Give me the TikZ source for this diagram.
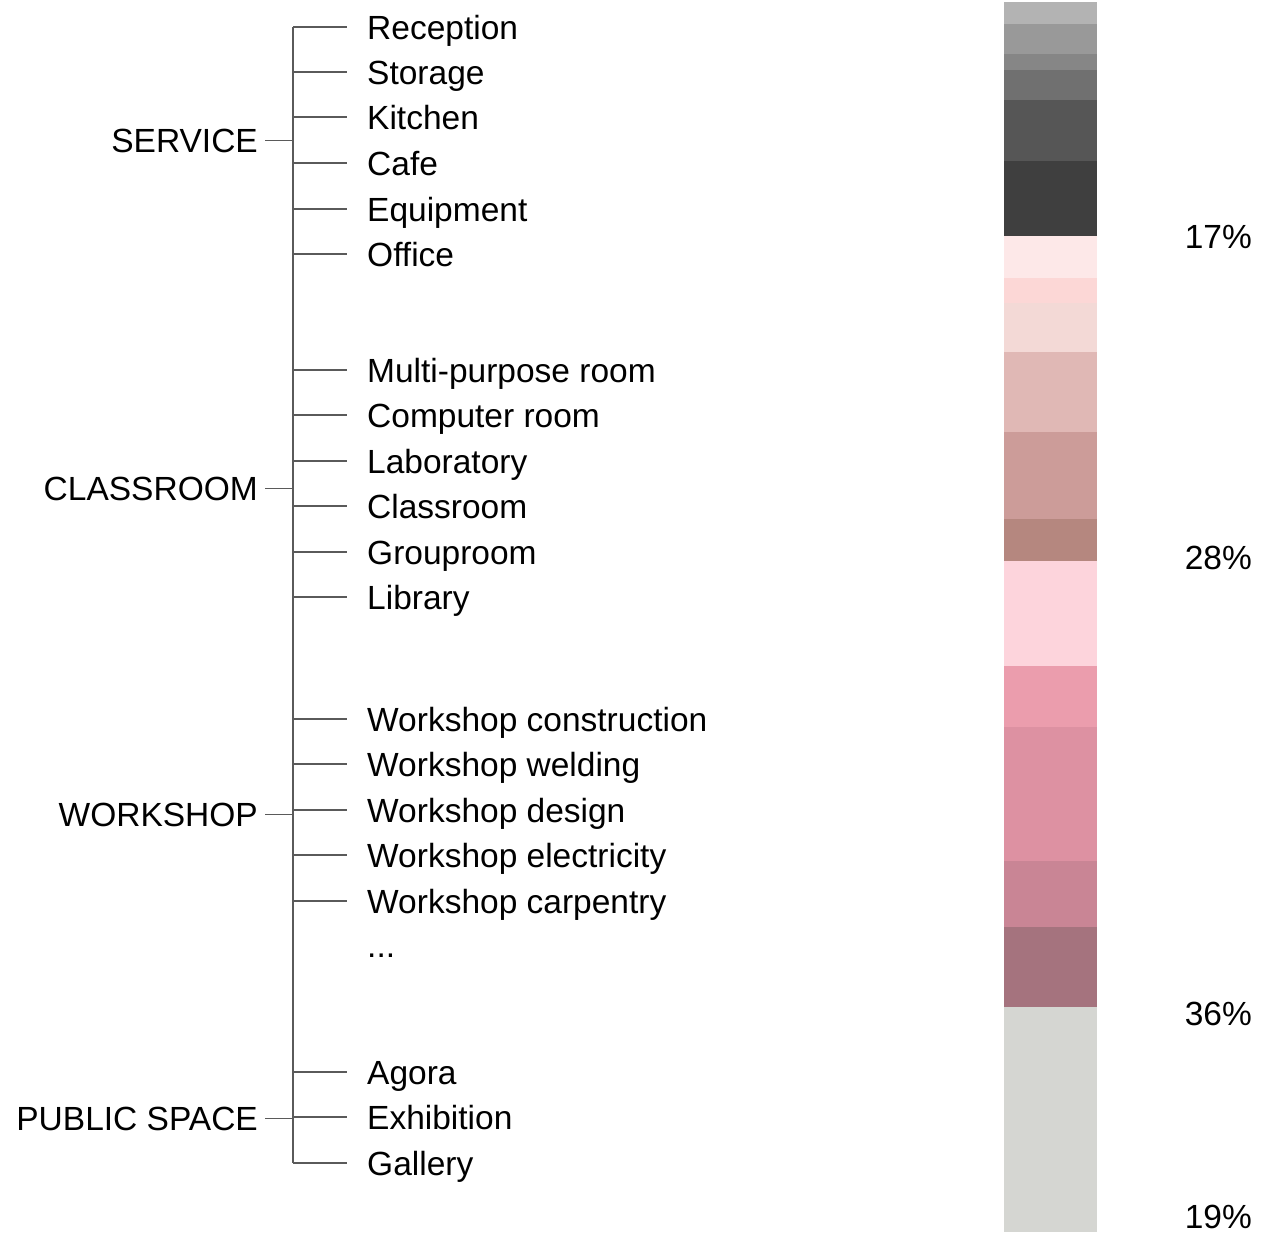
\documentclass[tikz,border=0pt]{standalone}
\usepackage{fontspec}
\setmainfont{Liberation Sans}
\usetikzlibrary{positioning}
\definecolor{bandA}{HTML}{B3B3B3}
\definecolor{bandB}{HTML}{999999}
\definecolor{bandC}{HTML}{868686}
\definecolor{bandD}{HTML}{707070}
\definecolor{bandE}{HTML}{565656}
\definecolor{bandF}{HTML}{3F3F3F}
\definecolor{bandG}{HTML}{FDE8E8}
\definecolor{bandH}{HTML}{FCD7D6}
\definecolor{bandI}{HTML}{F3D9D6}
\definecolor{bandJ}{HTML}{E0B8B5}
\definecolor{bandK}{HTML}{CC9C99}
\definecolor{bandL}{HTML}{B5877F}
\definecolor{bandM}{HTML}{FDD4DC}
\definecolor{bandN}{HTML}{EB9DAD}
\definecolor{bandO}{HTML}{DD91A2}
\definecolor{bandP}{HTML}{C98595}
\definecolor{bandQ}{HTML}{A5737E}
\definecolor{bandR}{HTML}{D5D6D2}
\definecolor{treeline}{HTML}{5A5A5A}
\tikzset{
  item/.style={anchor=west, inner xsep=20pt, inner ysep=0pt,
    text height=24pt, text depth=0pt},
  group/.style={anchor=east, inner xsep=7pt, inner ysep=0pt,
    text height=24pt, text depth=0pt},
  share/.style={anchor=east, inner sep=0pt,
    text height=24pt, text depth=0pt},
  tick/.style={treeline, line width=1.3pt},
  link/.style={treeline, line width=0.9pt}
}

\begin{document}
\begin{tikzpicture}[x=1pt, y=-1pt, font=\fontsize{33.5}{40}\selectfont]
  \useasboundingbox (0,0) rectangle (1263,1234);
  % service
  \node[item] (reception) at (347,27) {Reception};
  \node[item] (storage) at (347,72) {Storage};
  \node[item] (kitchen) at (347,117) {Kitchen};
  \node[item] (cafe) at (347,163) {Cafe};
  \node[item] (equipment) at (347,209) {Equipment};
  \node[item] (office) at (347,254) {Office};
  % classroom
  \node[item] (multipurpose) at (347,370) {Multi-purpose room};
  \node[item] (computer) at (347,415) {Computer room};
  \node[item] (laboratory) at (347,461) {Laboratory};
  \node[item] (classroom) at (347,506) {Classroom};
  \node[item] (grouproom) at (347,552) {Grouproom};
  \node[item] (library) at (347,597) {Library};
  % workshop
  \node[item] (wsconstruction) at (347,719) {Workshop construction};
  \node[item] (wswelding) at (347,764) {Workshop welding};
  \node[item] (wsdesign) at (347,810) {Workshop design};
  \node[item] (wselectricity) at (347,855) {Workshop electricity};
  \node[item] (wscarpentry) at (347,901) {Workshop carpentry};
  \node[item] (wsmore) at (347,945) {...};
  % public space
  \node[item] (agora) at (347,1072) {Agora};
  \node[item] (exhibition) at (347,1117) {Exhibition};
  \node[item] (gallery) at (347,1163) {Gallery};
  %
  \coordinate (sp-top) at (293,27);
  \coordinate (sp-bot) at (gallery.west -| sp-top);
  \draw[tick] (sp-top) -- (sp-bot);
  \foreach \n in {reception, storage, kitchen, cafe, equipment, office,
      multipurpose, computer, laboratory, classroom, grouproom, library,
      wsconstruction, wswelding, wsdesign, wselectricity, wscarpentry,
      agora, exhibition, gallery}
    \draw[tick] (\n.west -| sp-top) -- (\n.west);
  %
  \node[group] (gservice) at (265,140) {SERVICE};
  \node[group] (gclassroom) at (265,488) {CLASSROOM};
  \node[group] (gworkshop) at (265,814) {WORKSHOP};
  \node[group] (gpublic) at (265,1118) {PUBLIC SPACE};
  \foreach \g in {gservice, gclassroom, gworkshop, gpublic}
    \draw[link] (\g.east) -- (\g.east -| sp-top);
  % bar
  \fill[bandA] (1004,2) rectangle (1097,24);
  \fill[bandB] (1004,24) rectangle (1097,54);
  \fill[bandC] (1004,54) rectangle (1097,70);
  \fill[bandD] (1004,70) rectangle (1097,100);
  \fill[bandE] (1004,100) rectangle (1097,161);
  \fill[bandF] (1004,161) rectangle (1097,236);
  \fill[bandG] (1004,236) rectangle (1097,278);
  \fill[bandH] (1004,278) rectangle (1097,303);
  \fill[bandI] (1004,303) rectangle (1097,352);
  \fill[bandJ] (1004,352) rectangle (1097,432);
  \fill[bandK] (1004,432) rectangle (1097,519);
  \fill[bandL] (1004,519) rectangle (1097,561);
  \fill[bandM] (1004,561) rectangle (1097,666);
  \fill[bandN] (1004,666) rectangle (1097,727);
  \fill[bandO] (1004,727) rectangle (1097,861);
  \fill[bandP] (1004,861) rectangle (1097,927);
  \fill[bandQ] (1004,927) rectangle (1097,1007);
  \fill[bandR] (1004,1007) rectangle (1097,1232);
  %
  \node[share] (pservice) at (1252,236) {17\%};
  \node[share] (pclassroom) at (1252,557) {28\%};
  \node[share] (pworkshop) at (1252,1013) {36\%};
  \node[share] (ppublic) at (1252,1216) {19\%};
\end{tikzpicture}
\end{document}
